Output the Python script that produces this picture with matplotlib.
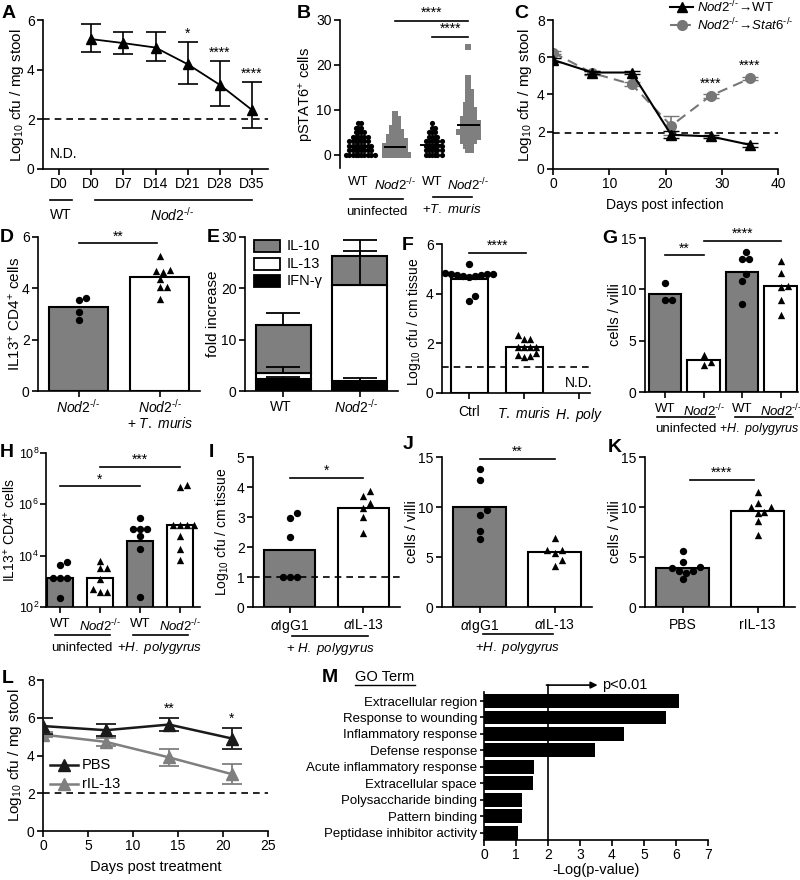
import numpy as np
import matplotlib
matplotlib.use('Agg')
import matplotlib.pyplot as plt
from matplotlib.lines import Line2D
from matplotlib.patches import Rectangle

plt.rcParams['font.family'] = ['Liberation Sans', 'DejaVu Sans']
plt.rcParams['mathtext.fontset'] = 'custom'
plt.rcParams['mathtext.rm'] = 'Liberation Sans'
plt.rcParams['mathtext.it'] = 'Liberation Sans:italic'
plt.rcParams['mathtext.bf'] = 'Liberation Sans:bold'
plt.rcParams['axes.linewidth'] = 1.2
plt.rcParams['xtick.major.width'] = 1.2
plt.rcParams['ytick.major.width'] = 1.2

NOD = r'$\mathit{Nod2}^{\text{-/-}}$'
GRAY = '#7f7f7f'

# ---------------- data ----------------
# A
a_days = ['D0', 'D0', 'D7', 'D14', 'D21', 'D28', 'D35']
a_mean = [5.23, 5.07, 4.89, 4.22, 3.39, 2.38]
a_lo = [4.70, 4.64, 4.35, 3.41, 2.54, 1.64]
a_hi = [5.85, 5.50, 5.50, 5.10, 4.33, 3.52]
a_stars = ['', '', '', '*', '****', '****']
# B
b_groups = ['WT', NOD, 'WT', NOD]
b_wt_uninf = [0]*10 + [1]*8 + [2]*8 + [3]*7 + [4]*6 + [5]*4 + [6]*3 + [7]*2
b_nod_uninf = [0]*8 + [1]*7 + [2]*7 + [3]*6 + [4]*5 + [5]*4 + [6]*3 + [7]*2 + [8]*2 + [9]
b_wt_inf = [0]*6 + [1]*6 + [2]*6 + [3]*6 + [4]*4 + [5]*3 + [6]*2 + [7]
b_nod_inf = ([1]*2 + [2]*3 + [3]*5 + [4]*6 + [5]*7 + [6]*6 + [7]*6 + [8]*5 + [9]*4 +
             [10]*4 + [11]*3 + [12]*2 + [13]*2 + [14]*2 + [15, 16, 17, 24])
b_means = [1.9, 1.8, 2.2, 6.7]
# C
c_days = [0, 7, 14, 21, 28, 35]
c_wt = [5.86, 5.18, 5.18, 1.84, 1.75, 1.30]
c_wt_err = [0.1, 0.1, 0.1, 0.2, 0.1, 0.1]
c_stat6 = [6.25, 5.15, 4.55, 2.32, 3.93, 4.86]
c_stat6_err = [0.1, 0.1, 0.1, 0.5, 0.1, 0.1]
c_legend = [r'$\mathit{Nod2}^{\text{-/-}}\!\rightarrow\!\mathrm{WT}$',
            r'$\mathit{Nod2}^{\text{-/-}}\!\rightarrow\!\mathit{Stat6}^{\text{-/-}}$']
# D
d_labels = [NOD, NOD]
d_bar = [3.27, 4.44]
d_nod = [3.62, 3.55, 3.06, 2.77]
d_tm = [5.27, 4.70, 4.66, 4.62, 4.38, 4.05, 4.05, 3.58]
# E
e_labels = ['WT', NOD]
e_ifng = [2.33, 1.95]
e_il13 = [1.27, 18.75]
e_il10 = [9.23, 5.60]
e_ifng_err = [0.47, 0.65]
e_il13_err = [1.10, 6.60]
e_il10_err = [2.37, 3.20]
# F
f_labels = ['Ctrl', r'$\mathit{T.\ muris}$', r'$\mathit{H.\ poly}$']
f_bar = [4.60, 1.85]
f_ctrl = [5.2, 4.82, 4.80, 4.80, 4.78, 4.75, 4.75, 4.72, 4.70, 4.68, 3.90, 3.72]
f_tm = [2.35, 2.16, 2.16, 1.86, 1.86, 1.86, 1.86, 1.60, 1.50, 1.46, 1.55]
# G
g_labels = ['WT', NOD, 'WT', NOD]
g_bar = [9.5, 3.16, 11.7, 10.35]
g_pts = [[10.6, 8.96, 8.96],
         [3.58, 2.6, 2.93],
         [13.6, 13.0, 13.0, 11.5, 10.85, 8.57],
         [12.77, 11.63, 10.2, 10.33, 8.96, 7.5]]
# H (log10 values)
h_labels = ['WT', NOD, 'WT', NOD]
h_bar = [1350, 1400, 37000, 150000]
h_pts = [[3.65, 3.75, 3.13, 3.13, 3.13, 2.34],
         [3.8, 3.5, 3.5, 3.1, 2.6, 2.6, 2.7],
         [5.47, 5.05, 5.05, 5.05, 4.78, 4.27, 2.38],
         [6.68, 6.75, 5.2, 5.2, 5.2, 5.2, 4.75, 4.25, 3.85]]
# I
i_labels = [r'$\alpha$IgG1', r'$\alpha$IL-13']
i_bar = [1.9, 3.3]
i_igg = [3.13, 2.97, 2.33, 1.0, 1.0, 1.0]
i_il13 = [3.86, 3.69, 3.47, 3.30, 3.00, 2.47]
# J
j_labels = [r'$\alpha$IgG1', r'$\alpha$IL-13']
j_bar = [10.0, 5.5]
j_igg = [13.8, 12.7, 9.7, 9.2, 7.6, 6.8]
j_il13 = [6.9, 5.7, 5.7, 5.4, 4.7, 4.1]
# K
k_labels = ['PBS', 'rIL-13']
k_bar = [3.9, 9.65]
k_pbs = [5.63, 4.53, 4.0, 3.87, 3.63, 3.43, 3.6, 2.8]
k_ril = [11.53, 10.43, 10.03, 10.0, 9.43, 9.53, 8.63, 7.2]
# L
l_days = [0, 7, 14, 21]
l_pbs = [5.56, 5.34, 5.64, 4.90]
l_pbs_err = [0.42, 0.33, 0.35, 0.55]
l_ril = [5.11, 4.72, 3.90, 3.01]
l_ril_err = [0.15, 0.20, 0.45, 0.52]
l_stars = ['', '', '**', '*']
# M
m_terms = ['Extracellular region', 'Response to wounding', 'Inflammatory response',
           'Defense response', 'Acute inflammatory response', 'Extracellular space',
           'Polysaccharide binding', 'Pattern binding', 'Peptidase inhibitor activity']
m_vals = [6.10, 5.70, 4.37, 3.48, 1.55, 1.53, 1.19, 1.19, 1.06]

# ---------------- helpers ----------------
W, H = 800, 880
fig = plt.figure(figsize=(8, 8.8), dpi=100)


def add_ax(l, t, r, b):
    ax = fig.add_axes([l / W, 1 - b / H, (r - l) / W, (b - t) / H])
    for s in ['top', 'right']:
        ax.spines[s].set_visible(False)
    ax.tick_params(direction='out', length=4, width=1.2, labelsize=10, pad=2)
    return ax


def T(x, y, s, **kw):
    kw.setdefault('ha', 'center')
    kw.setdefault('va', 'center')
    kw.setdefault('fontsize', 10)
    fig.text(x / W, 1 - y / H, s, **kw)


def HL(x0, x1, y, lw=1.2):
    fig.add_artist(Line2D([x0 / W, x1 / W], [1 - y / H] * 2, color='k', lw=lw))


def letter(x, y, s):
    T(x, y, s, fontsize=14, fontweight='bold', ha='left')


def ylab(x, yc, s, fs=11):
    T(x, yc, s, rotation=90, fontsize=fs)


def swarm(vals, sy, sx, d):
    vals = np.asarray(vals, float)
    offs = np.zeros(len(vals))
    placed = []
    for i in np.argsort(vals):
        y = vals[i] * sy
        c = 0.0
        for k in range(0, 400):
            c = ((k + 1) // 2) * (d * 0.5) * (1 if k % 2 else -1) if k else 0.0
            if all((c - px) ** 2 + (y - py) ** 2 >= d * d for px, py in placed):
                break
        placed.append((c, y))
        offs[i] = c / sx
    return offs


def sig(ax, x0, x1, y, s, dy):
    ax.plot([x0, x1], [y, y], color='k', lw=1.2, clip_on=False)
    ax.text((x0 + x1) / 2, y + dy, s, ha='center', va='bottom', fontsize=10)


def pts(ax, x, vals, marker, sy, sx, d=7, color='k', s=28, log=False):
    v = np.asarray(vals, float)
    o = swarm(v, sy, sx, d)
    yy = 10 ** v if log else v
    ax.scatter(x + o, yy, marker=marker, s=s, color=color, zorder=4, clip_on=False, linewidths=0)


# ---------------- A ----------------
letter(2, 14, 'A')
axA = add_ax(43, 20, 268, 169)
xa = np.arange(1, 7)
am = np.array(a_mean)
axA.errorbar(xa, am, yerr=[am - np.array(a_lo), np.array(a_hi) - am], fmt='-^', color='k',
             ms=7, lw=1.3, capsize=7, elinewidth=1.2, capthick=1.2)
axA.axhline(2, ls=(0, (4, 3)), color='k', lw=1.2)
axA.set_xlim(-0.5, 6.5)
axA.set_ylim(0, 6)
axA.set_yticks([0, 2, 4, 6])
axA.set_xticks(range(7))
axA.set_xticklabels(a_days)
axA.text(-0.3, 0.6, 'N.D.', ha='left', va='center', fontsize=10)
for xi, h, s in zip(xa, a_hi, a_stars):
    if s:
        axA.text(xi, h + 0.05, s, ha='center', va='bottom', fontsize=10)
ylab(17, 95, r'Log$_{10}$ cfu / mg stool')
HL(50, 72, 200)
HL(95, 252, 200)
T(61, 215, 'WT')
T(172, 215, NOD)

# ---------------- B ----------------
letter(297, 14, 'B')
axB = add_ax(340, 20, 485, 168)
axB.set_xlim(-0.5, 3.45)
axB.set_ylim(-2.9, 30)
axB.spines['bottom'].set_visible(False)
axB.set_yticks([0, 10, 20, 30])
axB.set_xticks(range(4))
axB.set_xticklabels(b_groups, fontsize=9.5)
axB.tick_params(axis='x', length=0, pad=6)
sxB, syB = 36.7, 4.5
for i, (vals, mk, col) in enumerate([(b_wt_uninf, 'o', 'k'), (b_nod_uninf, 's', GRAY),
                                     (b_wt_inf, 'o', 'k'), (b_nod_inf, 's', GRAY)]):
    pts(axB, i, vals, mk, syB, sxB, d=2.8, color=col, s=14)
    axB.plot([i - 0.28, i + 0.28], [b_means[i]] * 2, color='k', lw=1.4, zorder=5)
sig(axB, 1, 3, 29.8, '****', 0.2)
sig(axB, 2, 3, 26.2, '****', 0.2)
ylab(306, 94, r'pSTAT6$^{+}$ cells', fs=10.5)
HL(350, 403, 199)
HL(433, 472, 197)
T(377, 212, 'uninfected', fontsize=9.5)
T(452, 209, r'+$\mathit{T.\ muris}$', fontsize=9.5)

# ---------------- C ----------------
letter(514, 14, 'C')
axC = add_ax(553, 20, 778, 169)
axC.errorbar(c_days, c_stat6, yerr=c_stat6_err, fmt='o', ls=(0, (5, 3)), color='#777777',
             ms=7, lw=1.5, capsize=6, elinewidth=1.2, zorder=2)
axC.errorbar(c_days, c_wt, yerr=c_wt_err, fmt='-^', color='k', ms=7, lw=1.5, capsize=6,
             elinewidth=1.2, zorder=3)
axC.axhline(1.93, ls=(0, (4, 3)), color='k', lw=1.2)
axC.set_xlim(0, 40)
axC.set_ylim(0, 8)
axC.set_xticks([0, 10, 20, 30, 40])
axC.set_yticks([0, 2, 4, 6, 8])
axC.text(28, 4.2, '****', ha='center', va='bottom', fontsize=10)
axC.text(35, 5.15, '****', ha='center', va='bottom', fontsize=10)
ylab(525, 95, r'Log$_{10}$ cfu / mg stool')
T(665, 205, 'Days post infection')
fig.add_artist(Line2D([670 / W, 693 / W], [1 - 7 / H] * 2, color='k', lw=1.5))
fig.add_artist(Line2D([681.5 / W], [1 - 7 / H], color='k', marker='^', ms=7))
fig.add_artist(Line2D([670 / W, 693 / W], [1 - 25 / H] * 2, color='#777777', lw=1.5, ls=(0, (4, 2))))
fig.add_artist(Line2D([681.5 / W], [1 - 25 / H], color='#777777', marker='o', ms=7))
T(697, 7, c_legend[0], ha='left', fontsize=9.5)
T(697, 25, c_legend[1], ha='left', fontsize=9.5)

# ---------------- D ----------------
letter(0, 237, 'D')
axD = add_ax(38, 237, 200, 391)
axD.bar([0, 1], d_bar, width=0.74, color=[GRAY, 'white'], edgecolor='k', lw=1.5, zorder=2)
pts(axD, 0, d_nod, 'o', 25.7, 81, d=7)
pts(axD, 1, d_tm, '^', 25.7, 81, d=7)
axD.set_xlim(-0.5, 1.5)
axD.set_ylim(0, 6)
axD.set_yticks([0, 2, 4, 6])
axD.set_xticks([0, 1])
axD.set_xticklabels(['', ''])
sig(axD, 0, 0.97, 5.75, '**', 0.0)
ylab(15, 314, r'IL13$^{+}$ CD4$^{+}$ cells')
T(78, 407, d_labels[0])
T(160, 407, d_labels[1])
T(160, 423, r'+ $\mathit{T.\ muris}$')

# ---------------- E ----------------
letter(207, 237, 'E')
axE = add_ax(245, 237, 398, 391)
xe = np.array([0, 1])
b1 = np.array(e_ifng)
b2 = np.array(e_il13)
b3 = np.array(e_il10)
axE.bar(xe, b1, width=0.72, color='k', edgecolor='k', lw=1.5, zorder=2)
axE.bar(xe, b2, bottom=b1, width=0.72, color='white', edgecolor='k', lw=1.5, zorder=2)
axE.bar(xe, b3, bottom=b1 + b2, width=0.72, color=GRAY, edgecolor='k', lw=1.5, zorder=2)
for tops, errs in [(b1, e_ifng_err), (b1 + b2, e_il13_err), (b1 + b2 + b3, e_il10_err)]:
    axE.errorbar(xe, tops, yerr=[np.zeros(2), errs], fmt='none', ecolor='k', elinewidth=1.3,
                 capsize=12, capthick=1.3, zorder=3)
axE.set_xlim(-0.5, 1.5)
axE.set_ylim(0, 30)
axE.set_yticks([0, 10, 20, 30])
axE.set_xticks([0, 1])
axE.set_xticklabels(['', ''])
ylab(213, 314, 'fold increase')
for yc, col, lab in [(246, GRAY, 'IL-10'), (264, 'white', 'IL-13'), (281, 'k', 'IFN-γ')]:
    fig.add_artist(Rectangle((254 / W, 1 - (yc + 6) / H), 26 / W, 12 / H, facecolor=col,
                             edgecolor='k', lw=1.3, transform=fig.transFigure))
    T(287, yc, lab, ha='left', fontsize=10.5)
T(281, 407, e_labels[0])
T(356, 407, e_labels[1])

# ---------------- F ----------------
letter(402, 246, 'F')
axF = add_ax(442, 244, 590, 393)
axF.bar([0, 1], f_bar, width=0.68, color='white', edgecolor='k', lw=1.5, zorder=2)
pts(axF, 0, f_ctrl, 'o', 24.8, 54.8, d=6)
pts(axF, 1, f_tm, '^', 24.8, 54.8, d=6)
axF.axhline(1.05, ls=(0, (4, 3)), color='k', lw=1.2)
axF.set_xlim(-0.5, 2.2)
axF.set_ylim(0, 6)
axF.set_yticks([0, 2, 4, 6])
axF.set_xticks([0, 1, 2])
axF.set_xticklabels(f_labels)
axF.tick_params(axis='x', pad=5)
axF.text(2.0, 0.4, 'N.D.', ha='center', va='center', fontsize=10)
sig(axF, 0, 1.03, 5.65, '****', 0.0)
ylab(414, 322, r'Log$_{10}$ cfu / cm tissue', fs=10)

# ---------------- G ----------------
letter(602, 238, 'G')
axG = add_ax(645, 238, 798, 392)
axG.bar(range(4), g_bar, width=0.85, color=[GRAY, 'white', GRAY, 'white'], edgecolor='k',
        lw=1.5, zorder=2)
for i, mk in enumerate(['o', '^', 'o', '^']):
    pts(axG, i, g_pts[i], mk, 10.27, 38.5, d=7)
axG.set_xlim(-0.52, 3.45)
axG.set_ylim(0, 15)
axG.set_yticks([0, 5, 10, 15])
axG.set_xticks(range(4))
axG.set_xticklabels(g_labels, fontsize=9.5)
axG.tick_params(axis='x', pad=4)
sig(axG, 0, 1, 13.3, '**', 0.0)
sig(axG, 1, 3, 14.7, '****', 0.0)
ylab(615, 315, 'cells / villi', fs=10.5)
HL(657, 715, 417)
HL(735, 793, 417)
T(686, 429, 'uninfected', fontsize=9.5)
T(759, 429, r'+$\mathit{H.\ polygyrus}$', fontsize=9)

# ---------------- H ----------------
letter(0, 452, 'H')
axH = add_ax(46, 453, 200, 607)
axH.set_yscale('log')
axH.bar(range(4), h_bar, width=0.66, color=[GRAY, 'white', GRAY, 'white'], edgecolor='k',
        lw=1.5, zorder=2)
for i, mk in enumerate(['o', '^', 'o', '^']):
    pts(axH, i, h_pts[i], mk, 26.5, 40, d=7, log=True)
axH.set_xlim(-0.35, 3.5)
axH.set_ylim(1e2, 1e8)
axH.set_yticks([1e2, 1e4, 1e6, 1e8])
axH.minorticks_off()
axH.tick_params(axis='y', labelsize=9, pad=1)
axH.set_xticks(range(4))
axH.set_xticklabels(h_labels, fontsize=9.5)
axH.tick_params(axis='x', pad=4)
sig(axH, 0, 2, 10 ** 6.7, '*', 0)
sig(axH, 1, 3, 10 ** 7.45, '***', 0)
ylab(10, 530, r'IL13$^{+}$ CD4$^{+}$ cells', fs=10)
HL(55, 110, 635)
HL(133, 188, 635)
T(82, 648, 'uninfected', fontsize=9.5)
T(160, 648, r'+$\mathit{H.\ polygyrus}$', fontsize=9.5)

# ---------------- I ----------------
letter(209, 452, 'I')
axI = add_ax(253, 457, 400, 607)
axI.bar([0, 1], i_bar, width=0.7, color=[GRAY, 'white'], edgecolor='k', lw=1.5, zorder=2)
pts(axI, 0, i_igg, 'o', 30, 73.5, d=7)
pts(axI, 1, i_il13, '^', 30, 73.5, d=7)
axI.axhline(1.0, ls=(0, (4, 3)), color='k', lw=1.2)
axI.set_xlim(-0.5, 1.5)
axI.set_ylim(0, 5)
axI.set_yticks([0, 1, 2, 3, 4, 5])
axI.set_xticks([0, 1])
axI.set_xticklabels(i_labels)
axI.tick_params(axis='x', pad=4)
sig(axI, 0, 1, 4.3, '*', 0)
ylab(222, 532, r'Log$_{10}$ cfu / cm tissue', fs=10)
HL(292, 368, 636)
T(330, 649, r'+ $\mathit{H.\ polygyrus}$', fontsize=9.5)

# ---------------- J ----------------
letter(403, 444, 'J')
axJ = add_ax(442, 457, 592, 607)
axJ.bar([0, 1], j_bar, width=0.7, color=[GRAY, 'white'], edgecolor='k', lw=1.5, zorder=2)
pts(axJ, 0, j_igg, 'o', 10, 74, d=7)
pts(axJ, 1, j_il13, '^', 10, 74, d=7)
axJ.set_xlim(-0.5, 1.5)
axJ.set_ylim(0, 15)
axJ.set_yticks([0, 5, 10, 15])
axJ.set_xticks([0, 1])
axJ.set_xticklabels(j_labels)
axJ.tick_params(axis='x', pad=4)
sig(axJ, 0, 1, 14.8, '**', 0)
ylab(412, 532, 'cells / villi', fs=10.5)
HL(483, 553, 634)
T(518, 648, r'+$\mathit{H.\ polygyrus}$', fontsize=9.5)

# ---------------- K ----------------
letter(608, 447, 'K')
axK = add_ax(645, 457, 795, 607)
axK.bar([0, 1], k_bar, width=0.7, color=[GRAY, 'white'], edgecolor='k', lw=1.5, zorder=2)
pts(axK, 0, k_pbs, 'o', 10, 76, d=7)
pts(axK, 1, k_ril, '^', 10, 76, d=7)
axK.set_xlim(-0.5, 1.5)
axK.set_ylim(0, 15)
axK.set_yticks([0, 5, 10, 15])
axK.set_xticks([0, 1])
axK.set_xticklabels(k_labels)
axK.tick_params(axis='x', pad=4)
sig(axK, 0.1, 0.95, 12.7, '****', 0)
ylab(615, 532, 'cells / villi', fs=10.5)

# ---------------- L ----------------
letter(2, 678, 'L')
axL = add_ax(43, 680, 268, 831)
axL.errorbar(l_days, l_ril, yerr=l_ril_err, fmt='-^', color=GRAY, ms=8, lw=1.8, capsize=7,
             elinewidth=1.3, capthick=1.3, zorder=2)
axL.errorbar(l_days, l_pbs, yerr=l_pbs_err, fmt='-^', color='#1a1a1a', ms=8, lw=1.8, capsize=7,
             elinewidth=1.3, capthick=1.3, zorder=3)
axL.axhline(2.0, ls=(0, (4, 3)), color='k', lw=1.2)
axL.set_xlim(0, 25)
axL.set_ylim(0, 8)
axL.set_xticks([0, 5, 10, 15, 20, 25])
axL.set_yticks([0, 2, 4, 6, 8])
for xd, yv, e, s in zip(l_days, l_pbs, l_pbs_err, l_stars):
    if s:
        axL.text(xd, yv + e + 0.1, s, ha='center', va='bottom', fontsize=10)
ylab(15, 755, r'Log$_{10}$ cfu / mg stool')
T(156, 867, 'Days post treatment', fontsize=10.5)
fig.add_artist(Line2D([50 / W, 78 / W], [1 - 765 / H] * 2, color='#1a1a1a', lw=1.8))
fig.add_artist(Line2D([64 / W], [1 - 765 / H], color='#1a1a1a', marker='^', ms=8))
fig.add_artist(Line2D([50 / W, 78 / W], [1 - 784 / H] * 2, color=GRAY, lw=1.8))
fig.add_artist(Line2D([64 / W], [1 - 784 / H], color=GRAY, marker='^', ms=8))
T(82, 765, 'PBS', ha='left', fontsize=10.5)
T(82, 784, 'rIL-13', ha='left', fontsize=10.5)

# ---------------- M ----------------
letter(322, 677, 'M')
axM = add_ax(484, 692, 708, 840)
ym = np.arange(len(m_terms))
axM.barh(ym, m_vals, height=0.85, color='k', zorder=2)
axM.set_ylim(8.45, -0.55)
axM.set_xlim(0, 7)
axM.set_xticks(range(8))
axM.set_yticks(ym)
axM.set_yticklabels(m_terms, fontsize=9.5)
axM.tick_params(axis='y', length=3)
axM.plot([2, 2], [8.45, -0.97], color='k', lw=1.2, clip_on=False, zorder=3)
axM.annotate('', xy=(3.55, -0.97), xytext=(1.95, -0.97), annotation_clip=False,
             arrowprops=dict(arrowstyle='-|>', lw=1.2, color='k', shrinkA=0, shrinkB=0,
                             mutation_scale=10))
axM.text(3.7, -0.97, 'p<0.01', ha='left', va='center', fontsize=10.5, clip_on=False)
T(596, 870, '-Log(p-value)', fontsize=10.5)
T(355, 677, 'GO Term', ha='left', fontsize=10.5)
HL(355, 415, 685, lw=1.0)

fig.savefig('out.png', dpi=100)
